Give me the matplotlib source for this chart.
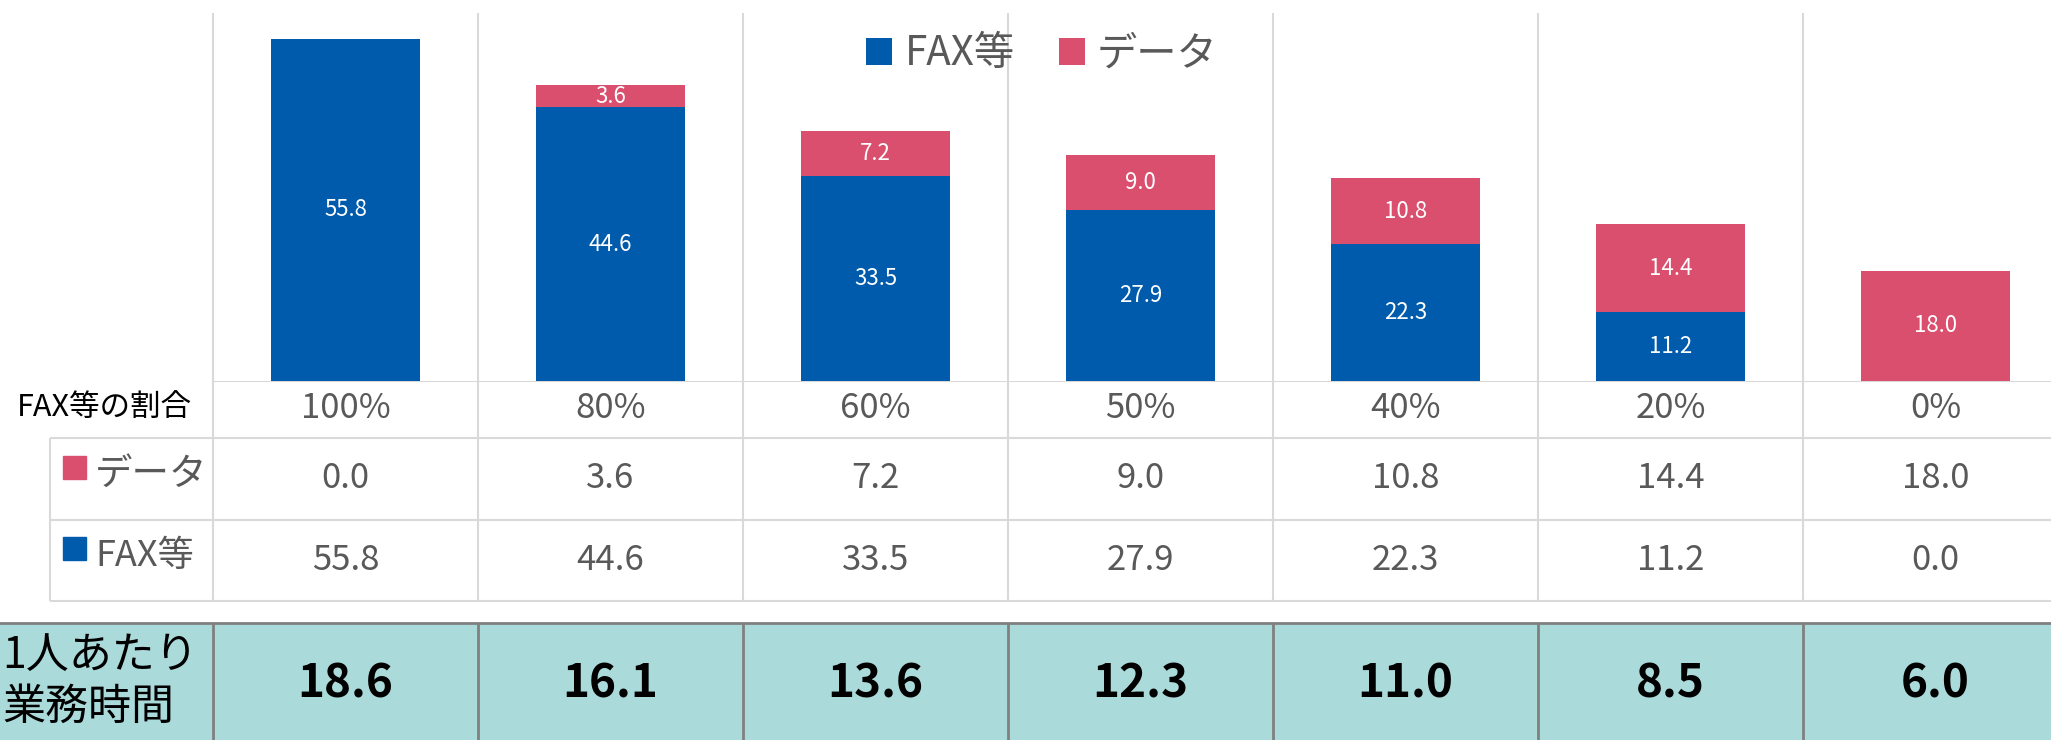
import matplotlib
matplotlib.use('Agg')
import matplotlib.pyplot as plt
from matplotlib.patches import Rectangle

plt.rcParams['font.family'] = ['Noto Sans CJK JP', 'DejaVu Sans']

# data
ratios = ['100%', '80%', '60%', '50%', '40%', '20%', '0%']
fax = [55.8, 44.6, 33.5, 27.9, 22.3, 11.2, 0.0]
data = [0.0, 3.6, 7.2, 9.0, 10.8, 14.4, 18.0]
per_person = [18.6, 16.1, 13.6, 12.3, 11.0, 8.5, 6.0]

BLUE = '#005BAC'
PINK = '#DB4F6E'
GRID = '#D9D9D9'
TEXT = '#595959'
TEAL = '#ABDADB'
BAND_LINE = '#808080'

W, H = 2051, 740
LEFT = 213   # px where the first column starts
COL = 265    # px per column
BASE = 381   # px from top: bar baseline / table top

fig = plt.figure(figsize=(W / 100, H / 100), dpi=100)
x0 = -0.5 - LEFT / COL
x1 = x0 + W / COL


def px2x(p):
    return x0 + p / COL


n = len(ratios)
xs = list(range(n))
bounds = [i - 0.5 for i in range(n + 1)]

# bar chart
ax = fig.add_axes([0, 1 - BASE / H, 1, (BASE - 13) / H])
ax.set_xlim(x0, x1)
ax.set_ylim(0, 60)
ax.axis('off')
ax.vlines(bounds, 0, 60, color=GRID, lw=1.5, zorder=0)
b1 = ax.bar(xs, fax, width=0.56, color=BLUE, label='FAX等', zorder=2)
b2 = ax.bar(xs, data, width=0.56, bottom=fax, color=PINK, label='データ', zorder=2)
ax.bar_label(b1, labels=[f'{v:.1f}' if v else '' for v in fax],
             label_type='center', color='white', fontsize=16)
ax.bar_label(b2, labels=[f'{v:.1f}' if v else '' for v in data],
             label_type='center', color='white', fontsize=16)

fig.legend(handles=[b1, b2], loc='center', bbox_to_anchor=(1042 / W, 1 - 54 / H),
           ncol=2, frameon=False, fontsize=29, labelcolor=TEXT,
           handlelength=0.65, handleheight=0.65, handletextpad=0.3,
           columnspacing=1.1, borderpad=0)

# data table below
tax = fig.add_axes([0, 0, 1, (H - BASE) / H])
tax.set_xlim(x0, x1)
tax.set_ylim(H, BASE)
tax.axis('off')

tax.hlines(BASE, -0.5, x1, color=GRID, lw=1.5)
tax.hlines([438, 520, 601], px2x(50), x1, color=GRID, lw=1.5)
tax.vlines(bounds, BASE, 601, color=GRID, lw=1.5)
tax.vlines(px2x(50), 438, 601, color=GRID, lw=1.5)

tax.text(px2x(17), 407, 'FAX等の割合', ha='left', va='center', fontsize=22, color='black')
tax.add_patch(Rectangle((px2x(63), 456), 23 / COL, 23, color=PINK))
tax.text(px2x(95), 474, 'データ', ha='left', va='center', fontsize=27, color=TEXT)
tax.add_patch(Rectangle((px2x(63), 537), 23 / COL, 23, color=BLUE))
tax.text(px2x(95), 556, 'FAX等', ha='left', va='center', fontsize=26, color=TEXT)

for i in xs:
    tax.text(i, 409, ratios[i], ha='center', va='center', fontsize=25, color=TEXT)
    tax.text(i, 479, f'{data[i]:.1f}', ha='center', va='center', fontsize=25, color=TEXT)
    tax.text(i, 561, f'{fax[i]:.1f}', ha='center', va='center', fontsize=25, color=TEXT)

# per-person band
tax.axhspan(623, H, color=TEAL, zorder=0)
tax.axhline(623, color=BAND_LINE, lw=2)
tax.vlines(bounds, 623, H, color=BAND_LINE, lw=2)
tax.text(px2x(2), 656, '1人あたり', ha='left', va='center', fontsize=31, color='black')
tax.text(px2x(2), 708, '業務時間', ha='left', va='center', fontsize=31, color='black')
for i in xs:
    tax.text(i, 684, f'{per_person[i]:.1f}', ha='center', va='center',
             fontsize=33, fontweight='bold', color='black')

fig.savefig('out.png', dpi=100)
